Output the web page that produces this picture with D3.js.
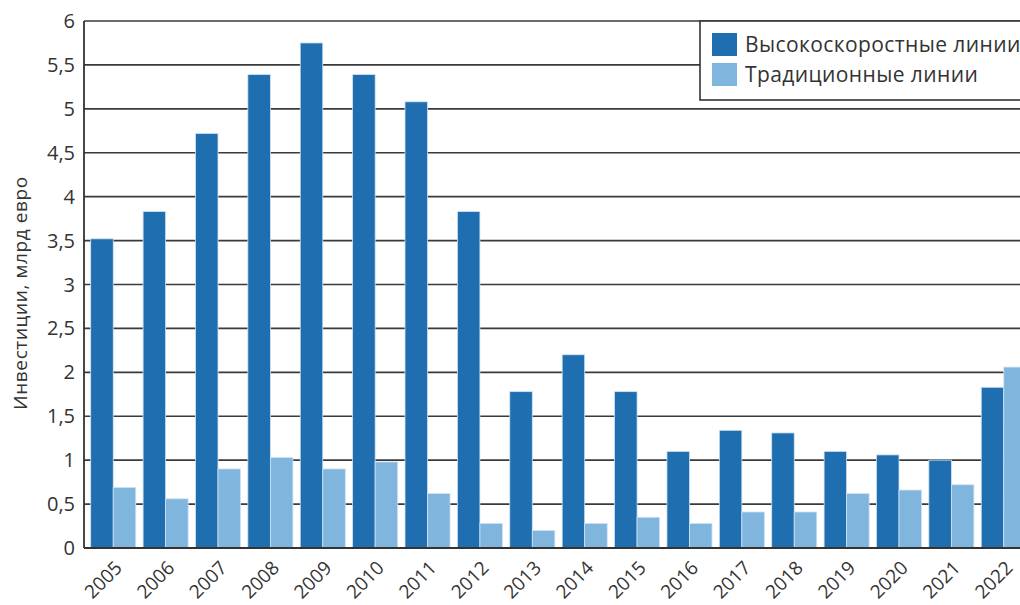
<!DOCTYPE html>
<html>
<head>
<meta charset="utf-8">
<title>Инвестиции</title>
<script src="https://d3js.org/d3.v7.min.js"></script>
<style>
    body { margin: 0; background: white; }
    svg { display: block; overflow: hidden; }
    text { font-family: "Open Sans", sans-serif; fill: #333; }
</style>
</head>
<body>
<svg width="1020" height="605"></svg>
<script>
// data
var years = ["2005","2006","2007","2008","2009","2010","2011","2012","2013",
             "2014","2015","2016","2017","2018","2019","2020","2021","2022"];
var highSpeed = [3.52, 3.83, 4.72, 5.39, 5.75, 5.39, 5.08, 3.83, 1.78,
                 2.20, 1.78, 1.10, 1.34, 1.31, 1.10, 1.06, 1.00, 1.83];
var traditional = [0.69, 0.56, 0.90, 1.03, 0.90, 0.98, 0.62, 0.28, 0.20,
                   0.28, 0.35, 0.28, 0.41, 0.41, 0.62, 0.66, 0.72, 2.06];
var seriesNames = ["Высокоскоростные линии", "Традиционные линии"];
var colors = ["#1f6eb0", "#80b5de"];
var yTicks = [0, 0.5, 1, 1.5, 2, 2.5, 3, 3.5, 4, 4.5, 5, 5.5, 6];
var yTitle = "Инвестиции, млрд евро";

var svg = d3.select("svg");
var plotLeft = 84, plotTop = 21, plotBottom = 548, plotRight = 1020;

var xs = d3.scaleBand().domain(years).range([plotLeft, 1033]).paddingInner(0.14).paddingOuter(0.128);
var x1 = d3.scaleBand().domain([0, 1]).range([0, xs.bandwidth()]);
var ys = d3.scaleLinear().domain([0, 6]).range([plotBottom, plotTop]);
var fmt = function(d) { return String(d).replace(".", ","); };

// grid lines
svg.append("g")
    .selectAll("line")
    .data(yTicks)
    .enter()
    .append("line")
        .attr("x1", plotLeft)
        .attr("x2", plotRight)
        .attr("y1", function(d) { return ys(d); })
        .attr("y2", function(d) { return ys(d); })
        .attr("stroke", "#3a3a3a")
        .attr("stroke-width", 1.6);

// bars
var groups = svg.append("g")
    .selectAll("g")
    .data(years)
    .enter()
    .append("g")
        .attr("transform", function(d) { return "translate(" + xs(d) + ",0)"; });

groups.selectAll("rect")
    .data(function(d, i) { return [highSpeed[i], traditional[i]]; })
    .enter()
    .append("rect")
        .attr("x", function(d, j) { return x1(j); })
        .attr("width", x1.bandwidth())
        .attr("y", function(d) { return ys(d); })
        .attr("height", function(d) { return ys(0) - ys(d); })
        .attr("fill", function(d, j) { return colors[j]; })
        .attr("stroke", "#cfe3f4")
        .attr("stroke-width", 0.8);

// axis lines
svg.append("line")
    .attr("x1", plotLeft).attr("x2", plotLeft)
    .attr("y1", plotTop).attr("y2", plotBottom)
    .attr("stroke", "#333").attr("stroke-width", 1.8);
svg.append("line")
    .attr("x1", plotLeft).attr("x2", plotRight)
    .attr("y1", plotBottom).attr("y2", plotBottom)
    .attr("stroke", "#333").attr("stroke-width", 1.8);

// y tick labels
svg.append("g")
    .selectAll("text")
    .data(yTicks)
    .enter()
    .append("text")
        .attr("x", plotLeft - 9)
        .attr("y", function(d) { return ys(d); })
        .attr("dy", "0.35em")
        .attr("text-anchor", "end")
        .style("font-size", "20px")
        .text(fmt);

// x tick labels
svg.append("g")
    .selectAll("text")
    .data(years)
    .enter()
    .append("text")
        .attr("transform", function(d) {
            return "translate(" + (xs(d) + xs.bandwidth() / 2) + "," + (plotBottom + 11) + ") rotate(-45)";
        })
        .attr("text-anchor", "end")
        .attr("dy", "0.75em")
        .style("font-size", "19px")
        .text(function(d) { return d; });

// y title
svg.append("text")
    .attr("transform", "translate(27,293) rotate(-90)")
    .attr("text-anchor", "middle")
    .style("font-size", "19px")
    .style("letter-spacing", "0.6px")
    .text(yTitle);

// legend
var legend = svg.append("g");
legend.append("rect")
    .attr("x", 700).attr("y", 21)
    .attr("width", 340).attr("height", 79)
    .attr("fill", "white")
    .attr("stroke", "#333")
    .attr("stroke-width", 1.6);

var items = legend.selectAll("g.item")
    .data(seriesNames)
    .enter()
    .append("g")
        .attr("class", "item")
        .attr("transform", function(d, i) { return "translate(712," + (33 + i * 30) + ")"; });
items.append("rect")
    .attr("width", 25).attr("height", 23)
    .attr("fill", function(d, i) { return colors[i]; });
items.append("text")
    .attr("x", 33).attr("y", 12)
    .attr("dy", "0.35em")
    .style("font-size", "21px")
    .style("letter-spacing", "0.4px")
    .text(function(d) { return d; });
</script>
</body>
</html>
